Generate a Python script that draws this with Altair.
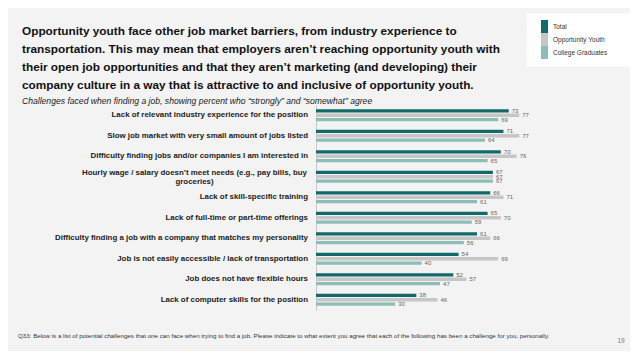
import altair as alt
import pandas as pd

categories = [
    "Lack of relevant industry experience for the position",
    "Slow job market with very small amount of jobs listed",
    "Difficulty finding jobs and/or companies I am interested in",
    "Hourly wage / salary doesn’t meet needs (e.g., pay bills, buy groceries)",
    "Lack of skill-specific training",
    "Lack of full-time or part-time offerings",
    "Difficulty finding a job with a company that matches my personality",
    "Job is not easily accessible / lack of transportation",
    "Job does not have flexible hours",
    "Lack of computer skills for the position",
]
series = ["Total", "Opportunity Youth", "College Graduates"]
total = [73, 71, 70, 67, 66, 65, 61, 54, 52, 38]
opportunity_youth = [77, 77, 76, 67, 71, 70, 66, 69, 57, 46]
college_grads = [69, 64, 65, 67, 61, 59, 56, 40, 47, 30]
colors = ["#12696a", "#c6c6c6", "#8dbdb7"]

wrapped_label = ["Hourly wage / salary doesn’t meet needs (e.g., pay bills, buy", "groceries)"]

title_lines = [
    "Opportunity youth face other job market barriers, from industry experience to",
    "transportation. This may mean that employers aren’t reaching opportunity youth with",
    "their open job opportunities and that they aren’t marketing (and developing) their",
    "company culture in a way that is attractive to and inclusive of opportunity youth.",
]
subtitle = "Challenges faced when finding a job, showing percent who “strongly” and “somewhat” agree"
footnote = ("Q33: Below is a list of potential challenges that one can face when trying to find a job. "
            "Please indicate to what extent you agree that each of the following has been a challenge for you, personally.")
page_no = "19"

rows = []
for i, c in enumerate(categories):
    for s, vals in zip(series, [total, opportunity_youth, college_grads]):
        rows.append({"category": c, "series": s, "value": vals[i]})
df = pd.DataFrame(rows)
cat_df = pd.DataFrame({"category": categories})

FONT = "Liberation Sans"

y_enc = alt.Y("category:N", sort=categories,
              scale=alt.Scale(paddingInner=0.41, paddingOuter=0.205),
              axis=alt.Axis(labels=False, ticks=False, title=None, grid=False,
                            domainColor="#c8c8c8", domainWidth=1))
yoff = alt.YOffset("series:N", sort=series, scale=alt.Scale(paddingInner=0.25))
x_enc = alt.X("value:Q", scale=alt.Scale(domain=[0, 100]), axis=None)

base = alt.Chart(df)

bars = base.mark_bar().encode(
    y=y_enc, yOffset=yoff, x=x_enc,
    color=alt.Color("series:N", sort=series,
                    scale=alt.Scale(domain=series, range=colors),
                    legend=alt.Legend(orient="none", legendX=222, legendY=-85, title=None,
                                      symbolType="M-0.54,-1H0.54V1H-0.54Z",
                                      symbolSize=169, symbolStrokeWidth=0, symbolOpacity=1,
                                      labelFontSize=6.5, labelOffset=2, labelFont=FONT,
                                      labelColor="#333333", rowPadding=0, padding=0)),
)

values = base.mark_text(align="left", baseline="middle", dx=3, fontSize=6, font=FONT,
                        color="#666666").encode(
    y=alt.Y("category:N", sort=categories), yOffset=yoff, x=x_enc,
    text=alt.Text("value:Q"),
)

labels = alt.Chart(cat_df).transform_filter(
    alt.datum.category != categories[3]
).mark_text(align="right", baseline="middle", fontSize=7.9, fontWeight="bold",
            font=FONT, color="#222222").encode(
    y=alt.Y("category:N", sort=categories), x=alt.value(-8), text="category:N",
)

wrapped = alt.Chart(cat_df).transform_filter(
    alt.datum.category == categories[3]
).mark_text(align="center", baseline="middle", fontSize=7.9, fontWeight="bold",
            font=FONT, color="#222222", lineHeight=9).encode(
    y=alt.Y("category:N", sort=categories), x=alt.value(-121.5), text=alt.value(wrapped_label),
    yOffset=alt.value(2),
)

legend_box = alt.Chart(cat_df).transform_filter(
    alt.datum.category == categories[0]
).mark_rect(color="white").encode(
    x=alt.value(211), x2=alt.value(314), y=alt.value(-92), y2=alt.value(-38),
)

title = alt.Chart(cat_df).transform_filter(
    alt.datum.category == categories[0]
).mark_text(align="left", baseline="middle", fontSize=11.8, fontWeight="bold",
            font=FONT, color="#111111", lineHeight=18).encode(
    x=alt.value(-294), y=alt.value(-74), text=alt.value(title_lines),
)

sub = alt.Chart(cat_df).transform_filter(
    alt.datum.category == categories[0]
).mark_text(align="left", baseline="middle", fontSize=8.6, fontStyle="italic",
            font=FONT, color="#222222").encode(
    x=alt.value(-294), y=alt.value(-4), text=alt.value(subtitle),
)

foot = alt.Chart(cat_df).transform_filter(
    alt.datum.category == categories[0]
).mark_text(align="left", baseline="middle", fontSize=6.2,
            font=FONT, color="#333333").encode(
    x=alt.value(-298), y=alt.value(231), text=alt.value(footnote),
)

page = alt.Chart(cat_df).transform_filter(
    alt.datum.category == categories[0]
).mark_text(align="center", baseline="middle", fontSize=6.5,
            font=FONT, color="#777777").encode(
    x=alt.value(305), y=alt.value(236), text=alt.value(page_no),
)

chart = alt.layer(legend_box, bars, values, labels, wrapped, title, sub, foot, page).properties(
    width=264, height=205,
    autosize=alt.AutoSizeParams(type="none"),
    padding={"left": 308, "top": 97, "right": 50, "bottom": 41},
    background="#f3f3f3",
).configure_view(stroke=None)

chart.save("out.html", embed_options={"renderer": "svg", "actions": False})
